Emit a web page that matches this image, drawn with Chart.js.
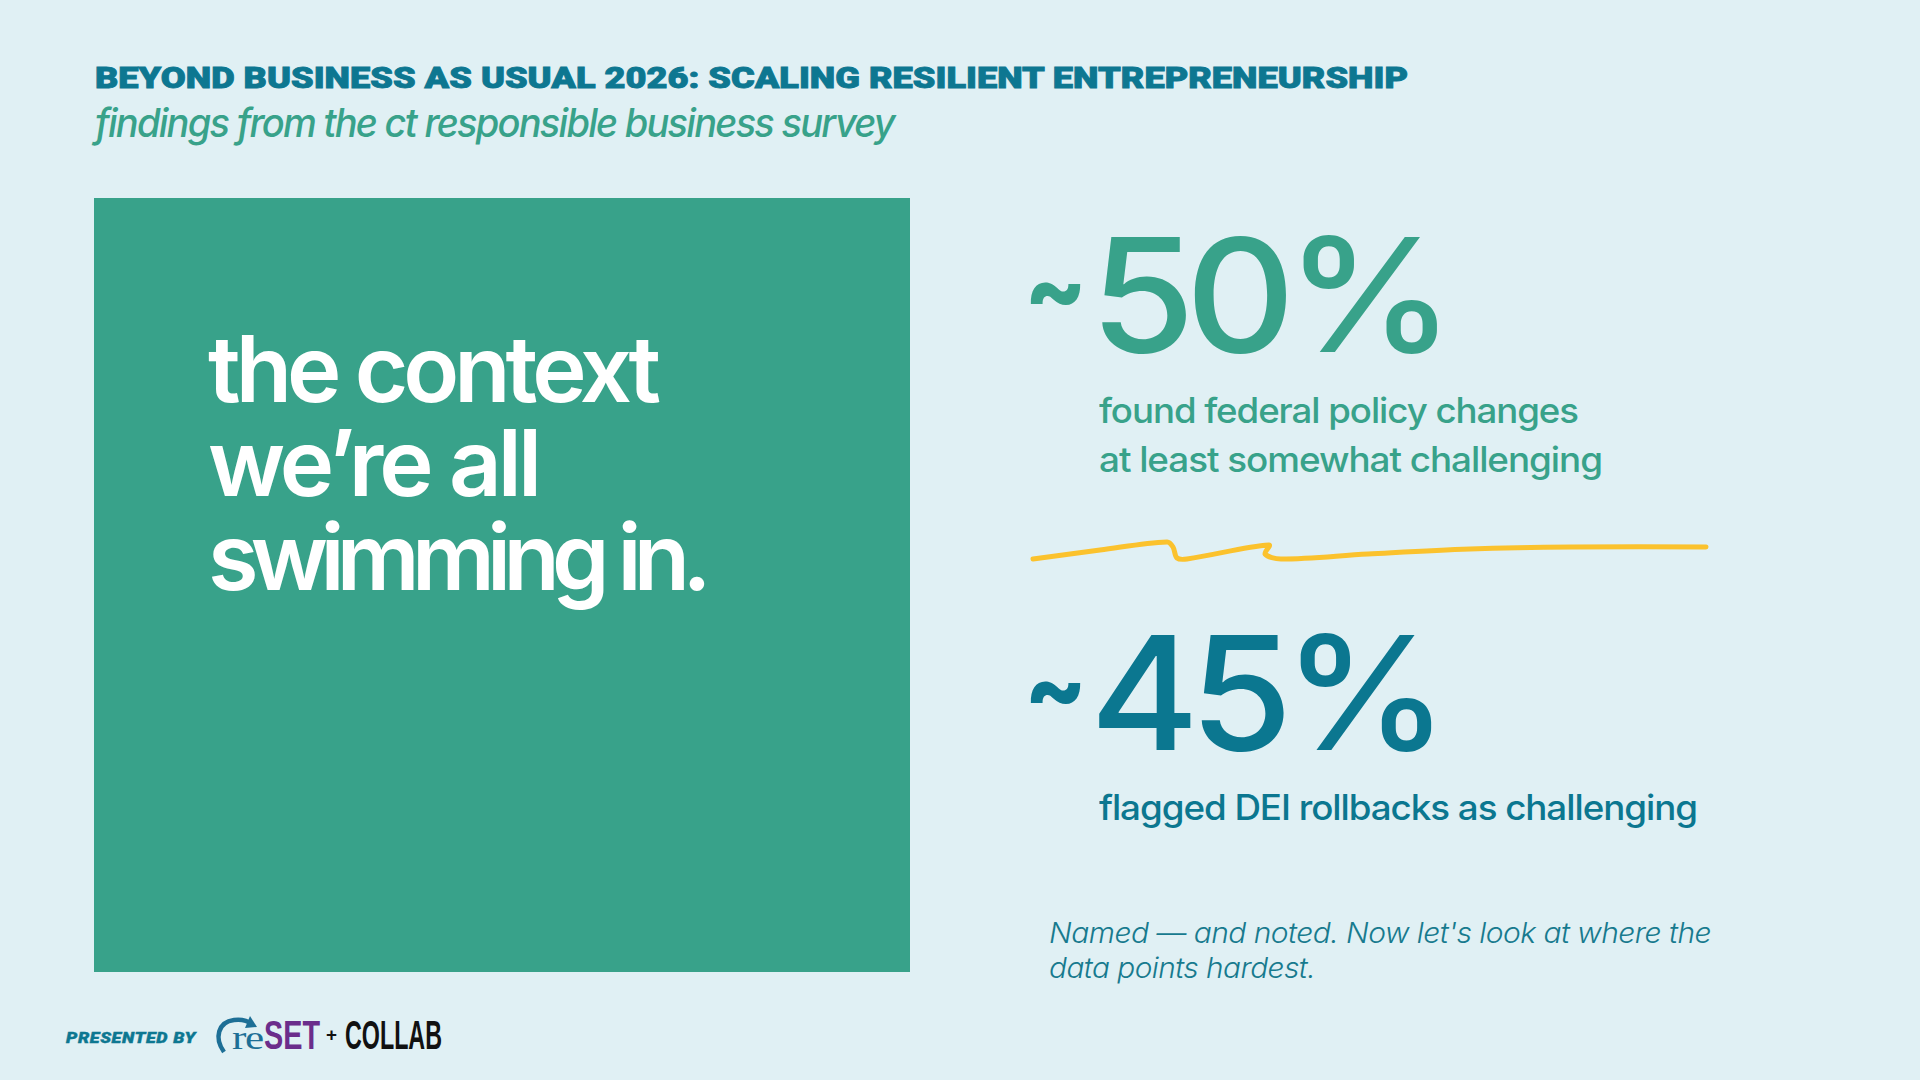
<!DOCTYPE html>
<html><head><meta charset="utf-8">
<script src="https://cdn.jsdelivr.net/npm/chart.js@4.4.1/dist/chart.umd.min.js"></script>
<style>
html,body{margin:0;padding:0;}
body{width:1920px;height:1080px;background:#e0f0f4;position:relative;overflow:hidden;font-family:Inter,'Noto Sans',sans-serif;}
.t{position:absolute;white-space:nowrap;transform-origin:0 0;line-height:1;}
#box{position:absolute;left:94px;top:198px;width:816px;height:774px;background:#38a28a;}
#boxText{position:absolute;left:208px;top:0;white-space:nowrap;font-family:Inter;font-weight:600;font-size:92px;color:#fff;}
#boxText .ln{display:block;height:94px;line-height:94px;overflow:visible;}
#boxText .ln span{display:inline-block;height:94px;line-height:94px;vertical-align:top;}
#sq{position:absolute;left:1010px;top:520px;}
</style></head><body>
<div id="box"></div>
<canvas id="sq" width="720" height="60"></canvas>
<div id="layer"></div>
<script>
// ---- data ----
const titleText = "BEYOND BUSINESS AS USUAL 2026: SCALING RESILIENT ENTREPRENEURSHIP";
const subtitleText = "findings from the ct responsible business survey";
const boxLines = ["the context", "we\u2019re all", "swimming in."];
const statPrefix = "~";
const statValues = [50, 45];
const statLabels = [["found federal policy changes", "at least somewhat challenging"], ["flagged DEI rollbacks as challenging"]];
const noteLines = ["Named \u2014 and noted. Now let's look at where the", "data points hardest."];
const presentedBy = "PRESENTED BY";
// hand-drawn divider
const squiggleX = [1033, 1100, 1167, 1173, 1177, 1187, 1269, 1265, 1281, 1368, 1470, 1572, 1706];
const squiggleY = [559, 550, 542, 547, 558, 559, 545, 554, 559, 554, 549, 547, 547];

const GREEN = "#38a28a", TEAL = "#0b7790";
const layer = document.getElementById('layer');
function txt(s, x, base, w, style){
  const el = document.createElement('div');
  el.className = 't';
  el.style.cssText += style;
  el.style.left = x + 'px'; el.style.top = '0px';
  const m = document.createElement('span');
  m.style.cssText = 'display:inline-block;width:0;height:0;';
  el.appendChild(m);
  el.appendChild(document.createTextNode(s));
  layer.appendChild(el);
  const r = el.getBoundingClientRect();
  const mb = m.getBoundingClientRect().top - r.top;
  el.style.top = (base - mb) + 'px';
  if (w) { el.style.transform = 'scaleX(' + (w / r.width) + ')'; }
  return el;
}
txt(titleText, 95, 88, 1313, "font-family:Roboto;font-weight:900;font-size:30px;color:#0d7791;letter-spacing:0px;-webkit-text-stroke:0.9px #0d7791;");
txt(subtitleText, 95, 137, 799, "font-family:Inter;font-style:italic;font-weight:500;font-size:39px;color:" + GREEN + ";letter-spacing:-1.8px;");

// box headline: one block, each line a fixed-height row, letter-spacing fitted per line
(function(){
  const el = document.createElement('div');
  el.id = 'boxText';
  const spans = boxLines.map((s) => {
    const ln = document.createElement('div');
    ln.className = 'ln';
    const sp = document.createElement('span');
    sp.textContent = s;
    ln.appendChild(sp);
    el.appendChild(ln);
    return sp;
  });
  document.body.appendChild(el);
  const boxW = [448, 330, 496];
  spans.forEach((sp, i) => {
    const w = sp.getBoundingClientRect().width;
    sp.style.letterSpacing = ((boxW[i] - w) / boxLines[i].length) + 'px';
  });
  // baseline of first row
  const m = document.createElement('span');
  m.style.cssText = 'display:inline-block;width:0;height:0;vertical-align:baseline;';
  const probe = document.createElement('div');
  probe.className = 'ln';
  probe.style.cssText = 'position:absolute;left:0;top:0;visibility:hidden;';
  probe.appendChild(m);
  el.appendChild(probe);
  const mb = m.getBoundingClientRect().top - el.getBoundingClientRect().top;
  probe.remove();
  el.style.top = (402 - mb) + 'px';
})();

const statColors = [GREEN, TEAL];
const numBase = [352, 750], numW = [355, 349], tildeBase = [322, 721];
const lblBase = [[423, 472], [820]], lblW = [[479, 503], [598]];
statValues.forEach((v, i) => {
  txt(statPrefix, 1024, tildeBase[i], 63, "font-family:Inter;font-weight:800;font-size:96px;color:" + statColors[i] + ";");
  txt(v + "%", 1090, numBase[i], numW[i], "font-family:Inter;font-weight:500;font-size:158px;color:" + statColors[i] + ";letter-spacing:-9px;");
  statLabels[i].forEach((s, j) => txt(s, 1099, lblBase[i][j], lblW[i][j], "font-family:Inter;font-weight:500;font-size:35px;color:" + statColors[i] + ";letter-spacing:-1px;"));
});
const noteBase = [943, 978], noteW = [662, 266];
noteLines.forEach((s, i) => txt(s, 1049, noteBase[i], noteW[i], "font-family:Inter;font-style:italic;font-weight:300;font-size:28px;color:#177a8e;letter-spacing:-0.5px;"));
txt(presentedBy, 66, 1043, 130, "font-family:Roboto;font-style:italic;font-weight:900;font-size:15px;color:#0d7791;letter-spacing:0.5px;-webkit-text-stroke:0.4px #0d7791;");
// logo
txt("re", 232, 1049, 31, "font-family:'Liberation Serif';font-size:34px;color:#1d6f96;letter-spacing:-1px;");
txt("SET", 264, 1049, 56, "font-family:'Liberation Sans Narrow','Liberation Sans';font-weight:700;font-size:40px;color:#6b2d8b;");
txt("+", 326, 1041, 11, "font-family:'Liberation Sans';font-weight:700;font-size:18px;color:#111;");
txt("COLLAB", 345, 1049, 97, "font-family:'Liberation Sans Narrow','Liberation Sans';font-weight:700;font-size:40px;color:#111;");
const svgNS = 'http://www.w3.org/2000/svg';
const svg = document.createElementNS(svgNS, 'svg');
svg.setAttribute('width', '60'); svg.setAttribute('height', '50');
svg.style.cssText = 'position:absolute;left:212px;top:1008px;';
svg.innerHTML = '<path d="M12 44 C2 30 6 14 22 12 C30 11 36 13 40 16" fill="none" stroke="#1d6f96" stroke-width="4.5"/><path d="M38 8 L45 19 L33 20 Z" fill="#1d6f96"/>';
document.body.appendChild(svg);

// ---- divider drawn by Chart.js ----
new Chart(document.getElementById('sq'), {
  type: 'line',
  data: { datasets: [{ data: squiggleX.map((x, i) => ({ x, y: squiggleY[i] })), borderColor: '#fbc22d', borderWidth: 5, pointRadius: 0, tension: 0.35, borderCapStyle: 'round', borderJoinStyle: 'round', fill: false }] },
  options: {
    responsive: false, animation: false, devicePixelRatio: 1,
    layout: { padding: 0 },
    plugins: { legend: { display: false }, tooltip: { enabled: false } },
    scales: {
      x: { type: 'linear', min: 1010, max: 1730, display: false },
      y: { type: 'linear', min: 520, max: 580, reverse: true, display: false }
    }
  }
});
</script>
</body></html>
